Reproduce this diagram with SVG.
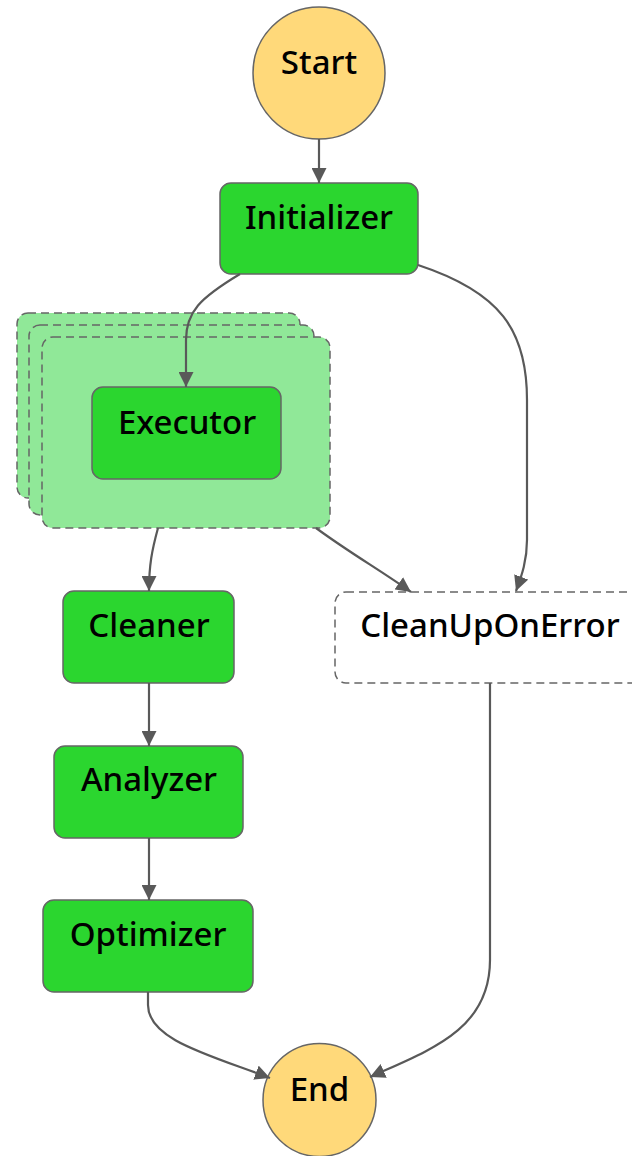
<svg xmlns="http://www.w3.org/2000/svg" width="632" height="1156" viewBox="0 0 632 1156">
  <style>
    .task { fill: #2bd62f; stroke: #666; stroke-width: 1.5; }
    .term { fill: #ffd97a; stroke: #666; stroke-width: 1.5; }
    .frame { fill: #90e898; stroke: #666; stroke-width: 1.5; stroke-dasharray: 8 5; }
    .catch { fill: #ffffff; stroke: #666; stroke-width: 1.5; stroke-dasharray: 8 5; }
    .edge { fill: none; stroke: #595959; stroke-width: 2.2; marker-end: url(#arrow); }
    text { font-family: "Noto Sans", "Open Sans", sans-serif; font-size: 33px; font-weight: 500; fill: #000; text-anchor: middle; }
  </style>
  <defs>
    <marker id="arrow" viewBox="0 0 14 14" refX="14" refY="7" markerWidth="15" markerHeight="15" markerUnits="userSpaceOnUse" orient="auto">
      <path d="M0,0 L14,7 L0,14 Z" fill="#595959"/>
    </marker>
  </defs>

  <rect width="632" height="1156" fill="#ffffff"/>

  <g id="start">
    <circle class="term" cx="319" cy="73" r="66"/>
    <text x="319" y="74">Start</text>
  </g>

  <g id="initializer">
    <rect class="task" x="220" y="183" width="198" height="91" rx="11"/>
    <text x="319" y="229">Initializer</text>
  </g>

  <g id="executor-map">
    <rect class="frame" x="17" y="313" width="283" height="185" rx="11"/>
    <rect class="frame" x="29" y="325" width="285" height="190" rx="11"/>
    <rect class="frame" x="42" y="337" width="288" height="191" rx="11"/>
  </g>

  <g id="executor">
    <rect class="task" x="92" y="387" width="189" height="92" rx="11"/>
    <text x="187" y="434">Executor</text>
  </g>

  <g id="cleaner">
    <rect class="task" x="63" y="591" width="171" height="92" rx="11"/>
    <text x="149" y="637">Cleaner</text>
  </g>

  <g id="cleanup-on-error">
    <rect class="catch" x="335" y="592" width="310" height="91" rx="11"/>
    <text x="490" y="637">CleanUpOnError</text>
  </g>

  <g id="analyzer">
    <rect class="task" x="54" y="746" width="189" height="92" rx="11"/>
    <text x="149" y="791">Analyzer</text>
  </g>

  <g id="optimizer">
    <rect class="task" x="43" y="900" width="210" height="92" rx="11"/>
    <text x="148" y="946">Optimizer</text>
  </g>

  <g id="end">
    <circle class="term" cx="319.5" cy="1100" r="56.5"/>
    <text x="319.5" y="1101">End</text>
  </g>

  <!-- transitions, drawn over the map frames -->
  <g id="connectors">
    <path class="edge" d="M319,139 L319,183"/>
    <path class="edge" d="M240,274 C200,298 186,312 186,340 L186,387"/>
    <path class="edge" d="M418,265 C500,292 527,330 527,400 L527,540 C527,560 522,575 516,591"/>
    <path class="edge" d="M158,528 C152,550 149,565 149,591"/>
    <path class="edge" d="M316,528 C350,553 380,570 411,592"/>
    <path class="edge" d="M149,683 L149,746"/>
    <path class="edge" d="M149,838 L149,900"/>
    <path class="edge" d="M148,992 L148,1005 C148,1040 210,1055 270,1078"/>
    <path class="edge" d="M490,683 L490,960 C490,1030 430,1050 370,1077"/>
  </g>
</svg>
